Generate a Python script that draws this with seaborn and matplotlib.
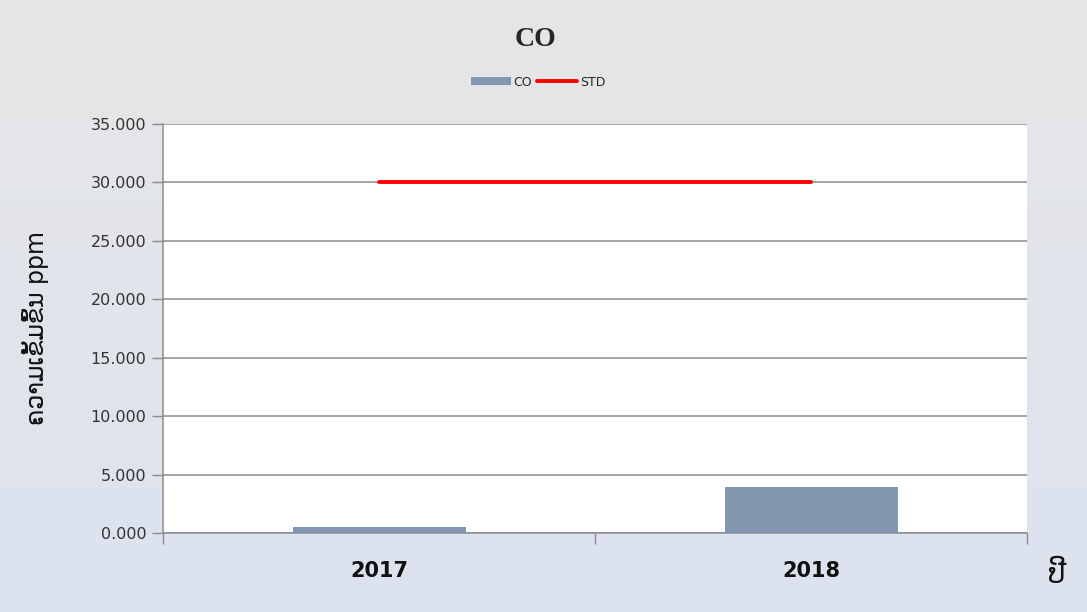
import numpy as np
import pandas as pd
import seaborn as sns
import matplotlib.pyplot as plt
from matplotlib.patches import Patch
from matplotlib.lines import Line2D

years = ["2017", "2018"]
co_values = [0.5, 3.95]
std_values = [30.0, 30.0]
y_ticks = [0, 5, 10, 15, 20, 25, 30, 35]

df = pd.DataFrame({"year": years, "CO": co_values})

sns.set_style("white")
plt.rcParams['font.family'] = ['DejaVu Sans']

fig = plt.figure(figsize=(10.87, 6.12), dpi=100)

# gradient background like the spreadsheet chart area
bg = fig.add_axes([0, 0, 1, 1], zorder=-1)
top = np.array([230, 230, 230]) / 255
bottom = np.array([220, 227, 240]) / 255
t = np.linspace(0, 1, 256)[:, None]
grad = (top[None, :] * (1 - t) + bottom[None, :] * t)[:, None, :]
bg.imshow(grad, aspect="auto", extent=[0, 1, 0, 1])
bg.axis("off")

ax = fig.add_axes([0.15, 0.129, 0.795, 0.6685])
ax.set_facecolor("white")

sns.barplot(data=df, x="year", y="CO", color="#8497b0", width=0.4,
            saturation=1, ax=ax, zorder=3, edgecolor="none", linewidth=0)
ax.plot([0, 1], std_values, color="#ff0000", lw=2.8, zorder=4)

ax.set_xlim(-0.5, 1.5)
ax.set_ylim(0, 35)
ax.set_yticks(y_ticks)
ax.set_yticklabels([f"{v:.3f}" for v in y_ticks], fontsize=11.5, color="#333333")
ax.yaxis.grid(True, color="#8c8c8c", lw=1.1, zorder=0)
ax.set_axisbelow(True)

ax.set_xticks([0, 1])
ax.set_xticklabels(years, fontsize=15, fontweight="bold", color="#111111")
ax.set_xticks([-0.5, 0.5, 1.5], minor=True)
ax.tick_params(axis="x", which="major", length=0, pad=20)
ax.tick_params(axis="x", which="minor", bottom=True, length=8,
               color="#8c8c8c", width=1)
ax.tick_params(axis="y", length=8, color="#8c8c8c", width=1, left=True, pad=4)

for side in ["top", "right"]:
    ax.spines[side].set_visible(False)
for side in ["left", "bottom"]:
    ax.spines[side].set_color("#8c8c8c")
    ax.spines[side].set_linewidth(1.1)

ax.set_xlabel("")
ax.set_ylabel("ຄວາມເຂັ້ມຂົ້ນ ppm", fontsize=17, labelpad=30, color="#111111")

fig.text(0.493, 0.935, "CO", ha="center", va="center", fontsize=20,
         fontweight="bold", family="Liberation Serif")
fig.text(0.972, 0.06, "ປີ", ha="center", va="center", fontsize=20, color="#111111")

handles = [Patch(facecolor="#8497b0", edgecolor="none", label="CO"),
           Line2D([0], [0], color="#ff0000", lw=2.8, label="STD")]
fig.legend(handles=handles, loc="center", bbox_to_anchor=(0.495, 0.866), ncol=2,
           frameon=False, fontsize=9, handlelength=3.2, handleheight=0.6,
           handletextpad=0.2, columnspacing=0.4)

fig.savefig("out.png", dpi=100)
